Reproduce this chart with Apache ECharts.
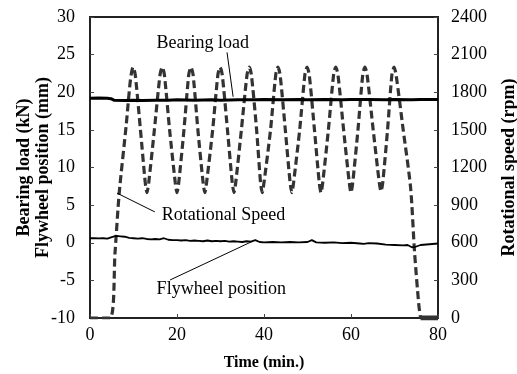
<!DOCTYPE html>
<html>
<head>
<meta charset="utf-8">
<script src="https://cdn.jsdelivr.net/npm/echarts@6/dist/echarts.min.js"></script>
<style>
html,body{margin:0;padding:0;background:#fff;}
#c{width:517px;height:374px;}
</style>
</head>
<body>
<div id="c"></div>
<script>
// Rotational speed (rpm) vs time (min)
const speedTime = [0, 4.6, 5.75, 6.7, 8.3, 9.3, 9.9, 10.4, 11.6, 12.7, 13.1, 13.5, 14.8, 16.1, 16.6, 17.1, 18.3, 19.6, 20.0, 20.4, 21.6, 22.7, 23.2, 23.7, 24.8, 26.0, 26.4, 26.8, 28.2, 29.4, 29.9, 30.4, 31.6, 32.7, 33.1, 33.5, 34.8, 36.1, 36.6, 37.1, 38.3, 39.2, 39.6, 40.0, 41.5, 42.7, 43.2, 43.7, 44.9, 46.0, 46.4, 46.8, 48.2, 49.4, 49.9, 50.4, 51.6, 52.7, 53.1, 53.5, 54.8, 56.0, 56.5, 57.0, 58.3, 59.6, 60.0, 60.4, 61.6, 62.7, 63.2, 63.7, 65.1, 66.5, 66.9, 67.3, 68.4, 69.4, 69.9, 70.4, 72.0, 73.7, 74.6, 75.6, 76.0];
const speedRpm  = [0, 0, 520, 990, 1530, 1900, 2000, 1940, 1500, 1080, 1000, 1080, 1500, 1940, 2000, 1940, 1500, 1080, 1000, 1080, 1500, 1940, 2000, 1940, 1500, 1080, 1000, 1080, 1500, 1940, 2000, 1940, 1500, 1080, 1000, 1080, 1500, 1940, 2000, 1940, 1500, 1080, 1000, 1080, 1500, 1940, 2000, 1940, 1500, 1080, 1000, 1080, 1500, 1940, 2000, 1940, 1500, 1080, 1000, 1080, 1500, 1940, 2000, 1940, 1500, 1080, 1000, 1080, 1500, 1940, 2000, 1940, 1500, 1080, 1010, 1080, 1500, 1940, 2000, 1930, 1500, 1040, 530, 100, 0];
// stopped period at the end (rpm)
const tailTime = [76.0, 77.0, 78.0, 79.0, 80.0];
const tailRpm  = [0, 0, 0, 0, 0];

// Bearing load (kN)
const loadTime = [0, 2, 4, 4.8, 5.5, 8, 10, 12, 15, 18, 20, 24, 28, 30, 34, 38, 40, 44, 48, 50, 54, 58, 60, 64, 68, 70, 74, 76, 78, 80];
const loadKN   = [19.2, 19.25, 19.2, 19.15, 18.95, 18.9, 18.95, 18.9, 18.95, 18.95, 19.0, 18.95, 19.0, 18.95, 19.0, 19.0, 19.05, 19.0, 19.05, 19.0, 19.05, 19.0, 19.05, 19.05, 19.0, 19.05, 19.0, 19.05, 19.05, 19.05];

// Flywheel position (mm)
const flyTime = [0, 1, 2, 3, 4, 5, 6, 7, 8, 9, 10, 11, 12, 13, 14, 15, 16, 17, 18, 19, 20, 21, 22, 23, 24, 25, 26, 27, 28, 29, 30, 31, 32, 33, 34, 35, 36, 37, 38, 39, 40, 42, 44, 46, 48, 50, 51, 52, 54, 56, 58, 60, 62, 63, 64, 66, 68, 70, 72, 73, 74, 75, 76, 78, 80];
const flyMM   = [0.6, 0.62, 0.58, 0.6, 0.55, 0.75, 0.9, 0.85, 0.8, 0.65, 0.6, 0.55, 0.6, 0.5, 0.45, 0.5, 0.45, 0.6, 0.4, 0.35, 0.35, 0.3, 0.35, 0.25, 0.3, 0.25, 0.2, 0.3, 0.2, 0.25, 0.2, 0.25, 0.15, 0.2, 0.15, 0.1, 0.2, 0.15, 0.35, 0.1, 0.05, 0.1, 0.05, 0.1, 0.05, 0.1, 0.35, 0.05, 0.0, 0.05, -0.05, 0.0, -0.1, -0.15, -0.05, -0.1, -0.25, -0.3, -0.35, -0.3, -0.6, -0.5, -0.3, -0.2, -0.1];

// Axis ticks
const xTicks = {min: 0, max: 80, step: 20};
const leftTicks = {min: -10, max: 30, step: 5};
const rightTicks = {min: 0, max: 2400, step: 300};

// Annotations (data coordinates, left axis)
const noteLabels = ['Bearing load', 'Rotational Speed', 'Flywheel position'];
const notePos = [[25.9, 26.5], [30.7, 3.7], [30.2, -6.15]];
const arrowFrom = [[31.5, 25.3], [14.9, 4.1], [18.4, -4.95]];
const arrowTo = [[32.9, 19.4], [6.2, 6.6], [37.2, 0.15]];

const zip = (a, b) => a.map((v, i) => [v, b[i]]);
const FONT = 'Liberation Serif';

const chart = echarts.init(document.getElementById('c'), null, {renderer: 'canvas'});
const axisLine = {show: true, onZero: false, lineStyle: {color: '#222', width: 2}};
const tick = {show: true, inside: true, length: 4, lineStyle: {color: '#444', width: 1}};
chart.setOption({
  animation: false,
  backgroundColor: '#fff',
  grid: {left: 90, right: 79, top: 17, bottom: 56, containLabel: false, outerBoundsMode: 'none',
         show: true, borderColor: '#222', borderWidth: 2, backgroundColor: 'transparent'},
  xAxis: {
    type: 'value', min: xTicks.min, max: xTicks.max, interval: xTicks.step,
    axisLine: axisLine, axisTick: tick,
    splitLine: {show: false},
    axisLabel: {fontFamily: FONT, fontSize: 18, color: '#000', margin: 8},
    name: 'Time (min.)', nameLocation: 'middle', nameGap: 37, nameMoveOverlap: false,
    nameTextStyle: {fontFamily: FONT, fontSize: 16, fontWeight: 'bold', color: '#000'}
  },
  yAxis: [{
    type: 'value', min: leftTicks.min, max: leftTicks.max, interval: leftTicks.step,
    axisLine: axisLine, axisTick: tick,
    splitLine: {show: false},
    axisLabel: {fontFamily: FONT, fontSize: 18, color: '#000', margin: 15},
    name: 'Bearing load (kN)\nFlywheel position (mm)', nameLocation: 'middle', nameRotate: 90, nameGap: 37,
    nameMoveOverlap: false,
    nameTextStyle: {fontFamily: FONT, fontSize: 18, fontWeight: 'bold', color: '#000', lineHeight: 19}
  }, {
    type: 'value', position: 'right', min: rightTicks.min, max: rightTicks.max, interval: rightTicks.step,
    axisLine: axisLine, axisTick: tick,
    splitLine: {show: false},
    axisLabel: {fontFamily: FONT, fontSize: 18, color: '#000', margin: 13, formatter: v => String(v)},
    name: 'Rotational speed (rpm)', nameLocation: 'middle', nameRotate: 90, nameGap: 62,
    nameMoveOverlap: false,
    nameTextStyle: {fontFamily: FONT, fontSize: 18, fontWeight: 'bold', color: '#000'}
  }],
  series: [{
    name: 'Rotational speed', type: 'line', yAxisIndex: 1, data: zip(speedTime, speedRpm),
    showSymbol: false, smooth: 0.25, z: 2,
    lineStyle: {color: '#333', width: 3.2, type: [8, 4]}
  }, {
    name: 'Rotational speed tail', type: 'line', yAxisIndex: 1, data: zip(tailTime, tailRpm),
    showSymbol: false, z: 2,
    lineStyle: {color: '#333', width: 5}
  }, {
    name: 'Bearing load', type: 'line', yAxisIndex: 0, data: zip(loadTime, loadKN),
    showSymbol: false, z: 3,
    lineStyle: {color: '#000', width: 3}
  }, {
    name: 'Flywheel position', type: 'line', yAxisIndex: 0, data: zip(flyTime, flyMM),
    showSymbol: false, z: 3,
    lineStyle: {color: '#000', width: 1.8},
    markLine: {
      silent: true, symbol: ['none', 'arrow'], symbolSize: [0, 8],
      lineStyle: {color: '#000', width: 1, type: 'solid'},
      label: {show: false},
      data: arrowFrom.map((f, i) => [{coord: f}, {coord: arrowTo[i]}])
    },
    markPoint: {
      silent: true, symbol: 'circle', symbolSize: 0,
      label: {show: true, position: 'inside', formatter: '{b}', fontFamily: FONT, fontSize: 18, color: '#000'},
      data: noteLabels.map((n, i) => ({name: n, coord: notePos[i]}))
    }
  }]
});
</script>
</body>
</html>
